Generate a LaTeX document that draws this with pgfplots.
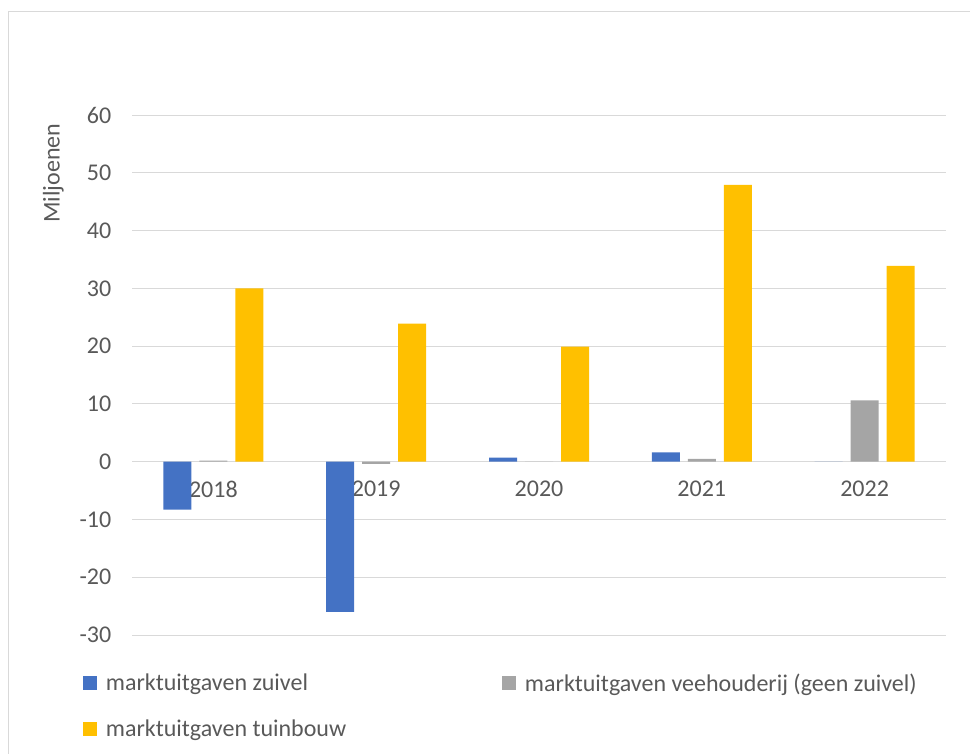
\documentclass[border=0pt]{standalone}
\usepackage{pgfplots}
\pgfplotsset{compat=1.18}
\usepackage{fontspec}
\setmainfont{Carlito}
\definecolor{cblue}{HTML}{4472C4}
\definecolor{cgray}{HTML}{A5A5A5}
\definecolor{cyellow}{HTML}{FFC000}
\definecolor{gridc}{HTML}{D9D9D9}
\definecolor{txt}{HTML}{595959}
\begin{document}
\begin{tikzpicture}
\path[use as bounding box] (0,0) rectangle (727.5pt,-564.75pt);
\draw[gridc, line width=0.75pt] (6.4pt,-570pt) -- (6.4pt,-8.6pt) -- (730pt,-8.6pt);
\begin{axis}[
  at={(99pt,-476.25pt)}, anchor=south west,
  scale only axis, width=610.5pt, height=390pt,
  ymin=-30, ymax=60, ytick={-30,-20,...,60},
  xmin=-0.5, xmax=4.5, xtick={0,...,4},
  xticklabels={2018,2019,2020,2021,2022},
  ybar=6pt, bar width=21pt,
  every axis plot post/.append style={legend image code/.code={\fill[##1] (0pt,-5.25pt) rectangle (10.5pt,5.25pt);}},
  axis line style={draw=none}, major tick length=0pt,
  ymajorgrids, grid style={gridc, line width=0.75pt},
  tick label style={font=\fontsize{18}{21}\selectfont, text=txt},
  /pgf/number format/assume math mode=true,
  xticklabel style={yshift=119pt},
  yticklabel style={xshift=-12pt},
  legend columns=2, legend cell align=left,
  legend style={at={(-0.0602,-0.0683)}, anchor=north west, draw=none, fill=none,
    inner sep=0pt, font=\fontsize{18}{21}\selectfont, text=txt, row sep=16pt,
    /tikz/every odd column/.append style={column sep=4.5pt},
    /tikz/every even column/.append style={column sep=115pt}},
]
\addplot[fill=cblue, draw=none] coordinates {(0,-8.3) (1,-26.0) (2,0.7) (3,1.6) (4,0)};
\addplot[fill=cgray, draw=none] coordinates {(0,0.2) (1,-0.4) (2,0) (3,0.5) (4,10.6)};
\addplot[fill=cyellow, draw=none] coordinates {(0,30.0) (1,23.9) (2,19.9) (3,47.9) (4,33.9)};
\legend{marktuitgaven zuivel, marktuitgaven veehouderij (geen zuivel), marktuitgaven tuinbouw}
\end{axis}
\node[rotate=90, text=txt, font=\fontsize{18}{21}\selectfont] at (40.1pt,-129.75pt) {Miljoenen};
\end{tikzpicture}
\end{document}
